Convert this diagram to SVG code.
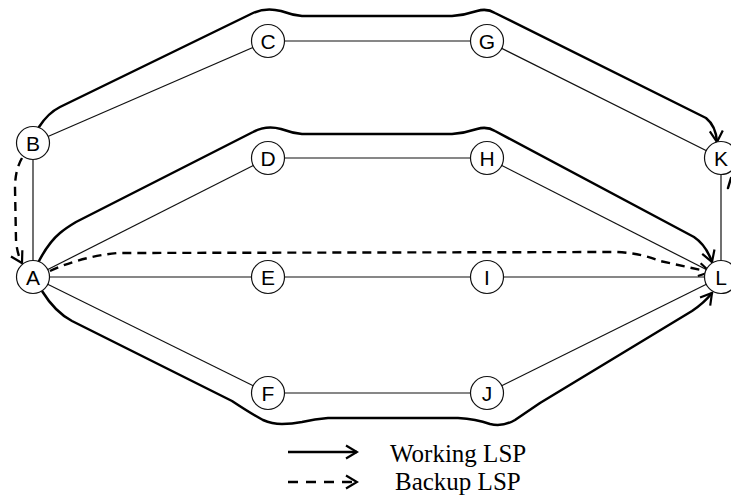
<svg xmlns="http://www.w3.org/2000/svg" width="731" height="497" viewBox="0 0 731 497">
<style>
.edge{stroke:#111;stroke-width:1.2;fill:none}
.work{stroke:#000;stroke-width:2.5;fill:none;stroke-linecap:round;stroke-linejoin:round}
.back{stroke:#000;stroke-width:2.4;fill:none;stroke-dasharray:9 6}
.node circle{fill:#fff;stroke:#111;stroke-width:1.2}
.node text{font-family:"Liberation Sans",Arial,sans-serif;font-size:21px;text-anchor:middle;fill:#000}
.legend text{font-family:"Liberation Serif","Times New Roman",serif;font-size:25px;fill:#000}
</style>
<defs>
<marker id="ah" viewBox="-13 -8 15 16" refX="0" refY="0" markerWidth="15" markerHeight="16" markerUnits="userSpaceOnUse" orient="auto">
<path d="M-11,-6.5 L0,0 L-11,6.5" fill="none" stroke="#000" stroke-width="2.2" stroke-linejoin="miter"/>
</marker>
</defs>
<rect width="731" height="497" fill="#fff"/>
<g id="connectors">
<line class="edge" x1="33" y1="143" x2="33" y2="277"/>
<line class="edge" x1="33" y1="143" x2="268" y2="41"/>
<line class="edge" x1="268" y1="41" x2="487" y2="41"/>
<line class="edge" x1="487" y1="41" x2="721" y2="158"/>
<line class="edge" x1="721" y1="158" x2="721" y2="277"/>
<line class="edge" x1="33" y1="277" x2="268" y2="158"/>
<line class="edge" x1="268" y1="158" x2="487" y2="158"/>
<line class="edge" x1="487" y1="158" x2="721" y2="277"/>
<line class="edge" x1="33" y1="277" x2="268" y2="277"/>
<line class="edge" x1="268" y1="277" x2="487" y2="277"/>
<line class="edge" x1="487" y1="277" x2="721" y2="277"/>
<line class="edge" x1="33" y1="277" x2="268" y2="393"/>
<line class="edge" x1="268" y1="393" x2="487" y2="393"/>
<line class="edge" x1="487" y1="393" x2="721" y2="277"/>
<path class="work" marker-end="url(#ah)" d="M39,127 Q48,113 60,107 L253,13 Q266,7 281,11 Q292,15 302,16 L452,16 Q465,15 477,11 Q487,8 495,13 L706,118 Q716,126 717,142"/>
<path class="work" marker-end="url(#ah)" d="M38,263 Q48,243 60,233 Q66,228 76,222 L253,132 Q266,125 281,129 Q292,133 302,134 L452,134 Q465,133 477,129 Q487,126 495,131 L694,237 Q706,245 712,262"/>
<path class="work" marker-end="url(#ah)" d="M42,291 Q55,312 72,321 L232,401 Q250,413 263,420 Q272,424 282,424 Q292,424 302,422 Q315,419 328,418 L458,418 Q476,419 490,424 Q503,427 515,420 L540,403 L692,311 Q704,303 712,293"/>
<path class="work" d="M728,188 L731,178"/>
<path class="back" marker-end="url(#ah)" d="M22,158 Q15,170 15,188 L16,240 Q17,254 22,263"/>
<path class="back" marker-end="url(#ah)" d="M50,271 Q80,257 117,253 L617,252 Q640,253 660,261 L710,272"/>
</g>
<g id="A" class="node"><circle cx="33" cy="277" r="16.5"/><text x="33" y="284.5">A</text></g>
<g id="B" class="node"><circle cx="33" cy="143" r="16.5"/><text x="33" y="150.5">B</text></g>
<g id="C" class="node"><circle cx="268" cy="41" r="16.5"/><text x="268" y="48.5">C</text></g>
<g id="D" class="node"><circle cx="268" cy="158" r="16.5"/><text x="268" y="165.5">D</text></g>
<g id="E" class="node"><circle cx="268" cy="277" r="16.5"/><text x="268" y="284.5">E</text></g>
<g id="F" class="node"><circle cx="268" cy="393" r="16.5"/><text x="268" y="400.5">F</text></g>
<g id="G" class="node"><circle cx="487" cy="41" r="16.5"/><text x="487" y="48.5">G</text></g>
<g id="H" class="node"><circle cx="487" cy="158" r="16.5"/><text x="487" y="165.5">H</text></g>
<g id="I" class="node"><circle cx="487" cy="277" r="16.5"/><text x="487" y="284.5">I</text></g>
<g id="J" class="node"><circle cx="487" cy="393" r="16.5"/><text x="487" y="400.5">J</text></g>
<g id="K" class="node"><circle cx="721" cy="158" r="16.5"/><text x="721" y="165.5">K</text></g>
<g id="L" class="node"><circle cx="721" cy="277" r="16.5"/><text x="721" y="284.5">L</text></g>
<g id="legend" class="legend">
<line x1="288" y1="452" x2="357" y2="452" stroke="#000" stroke-width="2.4" marker-end="url(#ah)"/>
<line x1="288" y1="482" x2="357" y2="482" stroke="#000" stroke-width="2.4" stroke-dasharray="10 8" marker-end="url(#ah)"/>
<text x="390" y="462">Working LSP</text>
<text x="395" y="490">Backup LSP</text>
</g>
</svg>
